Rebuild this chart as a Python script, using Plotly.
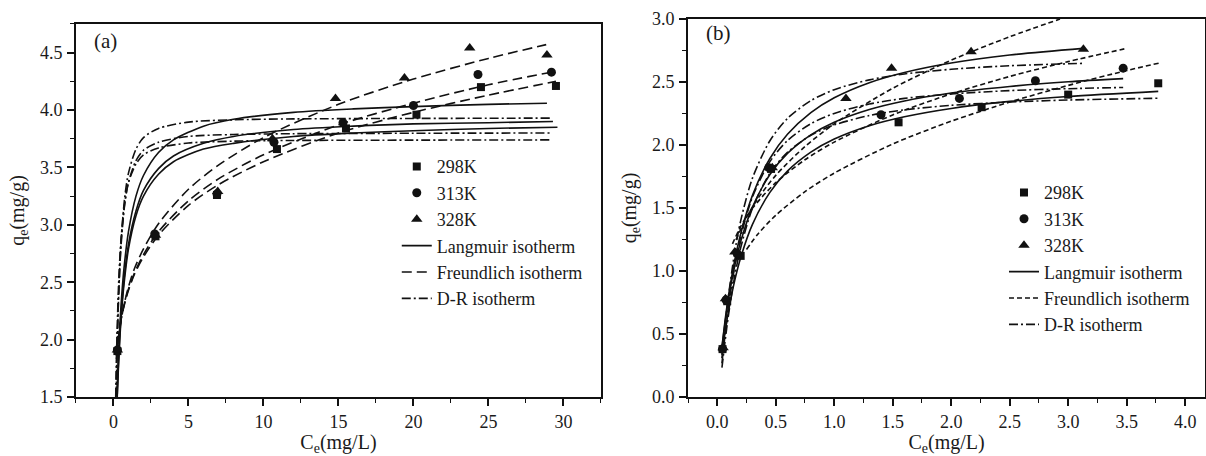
import plotly.graph_objects as go

# ---------------- Panel (a): experimental points ----------------
a_298_x = [0.26, 2.8, 6.9, 10.9, 15.5, 20.2, 24.5, 29.5]
a_298_y = [1.90, 2.90, 3.26, 3.66, 3.84, 3.96, 4.20, 4.21]
a_313_x = [0.26, 2.75, 6.9, 10.7, 15.3, 20.0, 24.3, 29.2]
a_313_y = [1.91, 2.92, 3.27, 3.72, 3.89, 4.04, 4.31, 4.33]
a_328_x = [0.26, 2.8, 6.95, 10.6, 14.8, 19.4, 23.75, 28.9]
a_328_y = [1.91, 2.91, 3.29, 3.75, 4.10, 4.28, 4.54, 4.48]

# Panel (a): Langmuir curves
a_lang_298_x = [0.25, 0.3, 0.4, 0.5, 0.7, 1.0, 1.5, 2, 3, 4, 6, 8, 12, 16, 20, 25, 29.6]
a_lang_298_y = [1.50, 1.67, 1.95, 2.17, 2.48, 2.79, 3.08, 3.25, 3.44, 3.55, 3.66, 3.71, 3.77, 3.80, 3.82, 3.84, 3.85]
a_lang_313_x = [0.25, 0.3, 0.4, 0.5, 0.7, 1.0, 1.5, 2, 3, 4, 6, 8, 12, 16, 20, 25, 29.3]
a_lang_313_y = [1.52, 1.70, 1.98, 2.20, 2.52, 2.83, 3.12, 3.30, 3.49, 3.60, 3.71, 3.77, 3.83, 3.86, 3.88, 3.89, 3.90]
a_lang_328_x = [0.25, 0.3, 0.4, 0.5, 0.7, 1.0, 1.5, 2, 3, 4, 6, 8, 12, 16, 20, 25, 28.9]
a_lang_328_y = [1.58, 1.76, 2.06, 2.29, 2.62, 2.94, 3.25, 3.43, 3.63, 3.74, 3.86, 3.92, 3.98, 4.01, 4.03, 4.05, 4.06]

# Panel (a): Freundlich curves
a_freu_298_x = [0.2, 0.3, 0.5, 0.7, 1, 1.4, 2, 3, 5, 7, 10, 15, 20, 25, 29.5]
a_freu_298_y = [1.86, 1.99, 2.17, 2.29, 2.43, 2.57, 2.72, 2.91, 3.17, 3.35, 3.55, 3.80, 3.98, 4.13, 4.25]
a_freu_313_x = [0.2, 0.3, 0.5, 0.7, 1, 1.4, 2, 3, 5, 7, 10, 15, 20, 25, 29.2]
a_freu_313_y = [1.86, 1.99, 2.17, 2.30, 2.44, 2.58, 2.74, 2.94, 3.21, 3.40, 3.61, 3.87, 4.06, 4.22, 4.33]
a_freu_328_x = [0.2, 0.3, 0.5, 0.7, 1, 1.4, 2, 3, 5, 7, 10, 15, 20, 25, 28.85]
a_freu_328_y = [1.83, 1.97, 2.16, 2.30, 2.46, 2.62, 2.79, 3.01, 3.31, 3.52, 3.76, 4.05, 4.27, 4.45, 4.57]

# Panel (a): D-R curves
a_dr_1_x = [0.18, 0.25, 0.35, 0.5, 0.75, 1.0, 1.5, 2, 3, 5, 8, 12, 20, 29.2]
a_dr_1_y = [1.51, 1.95, 2.40, 2.84, 3.24, 3.45, 3.66, 3.76, 3.84, 3.895, 3.915, 3.923, 3.927, 3.93]
a_dr_2_x = [0.17, 0.2, 0.25, 0.35, 0.5, 0.75, 1, 1.5, 2, 3, 5, 8, 12, 20, 29.2]
a_dr_2_y = [1.50, 1.70, 1.99, 2.41, 2.81, 3.18, 3.37, 3.56, 3.65, 3.72, 3.77, 3.787, 3.794, 3.798, 3.80]
a_dr_3_x = [0.15, 0.2, 0.25, 0.35, 0.5, 0.75, 1, 1.5, 2, 3, 5, 8, 12, 20, 29.2]
a_dr_3_y = [1.50, 1.85, 2.11, 2.51, 2.87, 3.19, 3.37, 3.53, 3.61, 3.67, 3.713, 3.729, 3.735, 3.738, 3.74]

# ---------------- Panel (b): experimental points ----------------
b_298_x = [0.045, 0.085, 0.20, 0.46, 1.55, 2.26, 3.0, 3.77]
b_298_y = [0.38, 0.76, 1.12, 1.81, 2.18, 2.30, 2.40, 2.49]
b_313_x = [0.045, 0.075, 0.17, 0.44, 1.40, 2.07, 2.72, 3.47]
b_313_y = [0.38, 0.77, 1.14, 1.82, 2.24, 2.37, 2.51, 2.61]
b_328_x = [0.05, 0.07, 0.15, 0.47, 1.10, 1.49, 2.17, 3.13]
b_328_y = [0.39, 0.78, 1.15, 1.82, 2.37, 2.61, 2.74, 2.76]

# Panel (b): Langmuir curves
b_lang_298_x = [0.04, 0.07, 0.1, 0.15, 0.2, 0.3, 0.45, 0.6, 0.8, 1.0, 1.3, 1.6, 2.0, 2.5, 3.0, 3.77]
b_lang_298_y = [0.335, 0.535, 0.702, 0.928, 1.106, 1.368, 1.624, 1.793, 1.943, 2.047, 2.153, 2.224, 2.290, 2.346, 2.385, 2.426]
b_lang_313_x = [0.04, 0.07, 0.1, 0.15, 0.2, 0.3, 0.45, 0.6, 0.8, 1.0, 1.3, 1.6, 2.0, 2.5, 3.0, 3.47]
b_lang_313_y = [0.388, 0.613, 0.799, 1.044, 1.233, 1.505, 1.766, 1.933, 2.081, 2.181, 2.282, 2.350, 2.413, 2.465, 2.502, 2.527]
b_lang_328_x = [0.04, 0.07, 0.1, 0.15, 0.2, 0.3, 0.45, 0.6, 0.8, 1.0, 1.3, 1.6, 2.0, 2.5, 3.13]
b_lang_328_y = [0.396, 0.630, 0.826, 1.089, 1.295, 1.598, 1.893, 2.085, 2.257, 2.375, 2.495, 2.576, 2.651, 2.714, 2.767]

# Panel (b): Freundlich curves
b_freu_298_x = [0.25, 0.35, 0.5, 0.75, 1.0, 1.5, 2.0, 2.5, 3.0, 3.5, 3.78]
b_freu_298_y = [1.171, 1.296, 1.442, 1.630, 1.777, 2.008, 2.189, 2.341, 2.473, 2.591, 2.651]
b_freu_313_x = [0.13, 0.2, 0.3, 0.5, 0.75, 1.0, 1.5, 2.0, 2.5, 3.0, 3.48]
b_freu_313_y = [1.215, 1.353, 1.497, 1.701, 1.883, 2.023, 2.239, 2.406, 2.544, 2.662, 2.763]
b_freu_328_x = [0.16, 0.25, 0.35, 0.5, 0.75, 1.0, 1.5, 2.0, 2.5, 2.93]
b_freu_328_y = [1.247, 1.426, 1.579, 1.759, 1.988, 2.168, 2.450, 2.673, 2.859, 3.0]

# Panel (b): D-R curves
b_dr_298_x = [0.04, 0.06, 0.08, 0.1, 0.15, 0.2, 0.3, 0.45, 0.6, 0.8, 1.0, 1.3, 1.6, 2.0, 2.5, 3.0, 3.77]
b_dr_298_y = [0.233, 0.391, 0.541, 0.677, 0.963, 1.184, 1.495, 1.776, 1.942, 2.077, 2.159, 2.234, 2.279, 2.315, 2.341, 2.357, 2.371]
b_dr_313_x = [0.04, 0.06, 0.08, 0.1, 0.15, 0.2, 0.3, 0.45, 0.6, 0.8, 1.0, 1.3, 1.6, 2.0, 2.5, 3.0, 3.47]
b_dr_313_y = [0.268, 0.440, 0.600, 0.744, 1.042, 1.269, 1.585, 1.868, 2.035, 2.169, 2.251, 2.325, 2.370, 2.405, 2.432, 2.447, 2.457]
b_dr_328_x = [0.04, 0.06, 0.08, 0.1, 0.15, 0.2, 0.3, 0.45, 0.6, 0.8, 1.0, 1.3, 1.6, 2.0, 2.5, 3.13]
b_dr_328_y = [0.309, 0.500, 0.675, 0.832, 1.154, 1.398, 1.735, 2.034, 2.211, 2.352, 2.439, 2.517, 2.564, 2.601, 2.629, 2.648]

series_names = ["298K", "313K", "328K"]
marker_symbols = ["square", "circle", "triangle-up"]
marker_sizes = [8, 9, 10]
model_names = ["Langmuir isotherm", "Freundlich isotherm", "D-R isotherm"]

FONT = "Liberation Serif, Times New Roman, serif"
INK = "#111111"
TXT = "#1a1a1a"

fig = go.Figure()


def add_curve(x, y, xa, ya, dash, name, legend, show, rank):
    fig.add_trace(go.Scatter(
        x=x, y=y, mode="lines", xaxis=xa, yaxis=ya,
        line=dict(color=INK, width=1.6, dash=dash, shape="spline", smoothing=0.8),
        name=name, legend=legend, showlegend=show, legendrank=rank,
        hoverinfo="skip"))


dash_a = {"solid": "solid", "freu": "10px,5px", "dr": "9px,3px,2px,3px"}
dash_b = {"solid": "solid", "freu": "5px,3px", "dr": "9px,3px,2px,3px"}

# Panel (a) curves
for i, (x, y) in enumerate([(a_lang_298_x, a_lang_298_y), (a_lang_313_x, a_lang_313_y), (a_lang_328_x, a_lang_328_y)]):
    add_curve(x, y, "x", "y", dash_a["solid"], model_names[0], "legend", i == 0, 4)
for i, (x, y) in enumerate([(a_freu_298_x, a_freu_298_y), (a_freu_313_x, a_freu_313_y), (a_freu_328_x, a_freu_328_y)]):
    add_curve(x, y, "x", "y", dash_a["freu"], model_names[1], "legend", i == 0, 5)
for i, (x, y) in enumerate([(a_dr_1_x, a_dr_1_y), (a_dr_2_x, a_dr_2_y), (a_dr_3_x, a_dr_3_y)]):
    add_curve(x, y, "x", "y", dash_a["dr"], model_names[2], "legend", i == 0, 6)

# Panel (b) curves
for i, (x, y) in enumerate([(b_lang_298_x, b_lang_298_y), (b_lang_313_x, b_lang_313_y), (b_lang_328_x, b_lang_328_y)]):
    add_curve(x, y, "x2", "y2", dash_b["solid"], model_names[0], "legend2", i == 0, 4)
for i, (x, y) in enumerate([(b_freu_298_x, b_freu_298_y), (b_freu_313_x, b_freu_313_y), (b_freu_328_x, b_freu_328_y)]):
    add_curve(x, y, "x2", "y2", dash_b["freu"], model_names[1], "legend2", i == 0, 5)
for i, (x, y) in enumerate([(b_dr_298_x, b_dr_298_y), (b_dr_313_x, b_dr_313_y), (b_dr_328_x, b_dr_328_y)]):
    add_curve(x, y, "x2", "y2", dash_b["dr"], model_names[2], "legend2", i == 0, 6)

# Markers on top
a_points = [(a_298_x, a_298_y), (a_313_x, a_313_y), (a_328_x, a_328_y)]
b_points = [(b_298_x, b_298_y), (b_313_x, b_313_y), (b_328_x, b_328_y)]
for i, (x, y) in enumerate(a_points):
    fig.add_trace(go.Scatter(x=x, y=y, mode="markers", xaxis="x", yaxis="y",
                             marker=dict(symbol=marker_symbols[i], size=marker_sizes[i], color=INK),
                             name=series_names[i], legend="legend", legendrank=i + 1, cliponaxis=False))
for i, (x, y) in enumerate(b_points):
    fig.add_trace(go.Scatter(x=x, y=y, mode="markers", xaxis="x2", yaxis="y2",
                             marker=dict(symbol=marker_symbols[i], size=marker_sizes[i], color=INK),
                             name=series_names[i], legend="legend2", legendrank=i + 1, cliponaxis=False))

axis_common = dict(
    showline=True, linewidth=2, linecolor=INK, mirror=True,
    ticks="outside", ticklen=7, tickwidth=1.5, tickcolor=INK,
    showgrid=False, zeroline=False, automargin=False,
    tickfont=dict(family=FONT, size=18, color=TXT),
    title_font=dict(family=FONT, size=20, color=TXT),
)
minor_common = dict(ticks="outside", ticklen=4, tickwidth=1.2, tickcolor=INK)

fig.update_layout(
    template="none",
    width=1206, height=456,
    margin=dict(l=0, r=0, t=0, b=0, autoexpand=False),
    paper_bgcolor="white", plot_bgcolor="white",
    font=dict(family=FONT, color=TXT),
    xaxis=dict(domain=[0.063, 0.4983], range=[-2.5, 32.5], tickvals=[0, 5, 10, 15, 20, 25, 30],
               minor=dict(dtick=2.5, tick0=0, **minor_common),
               title=dict(text="C<sub>e</sub>(mg/L)", standoff=16), anchor="y", ticklabelstandoff=0, **axis_common),
    yaxis=dict(domain=[0.1294, 0.9474], range=[1.5, 4.75], dtick=0.5, tick0=1.5, tickformat=".1f",
               minor=dict(dtick=0.25, tick0=1.5, **minor_common),
               title=dict(text="q<sub>e</sub>(mg/g)", standoff=10), anchor="x", ticklabelstandoff=1, **axis_common),
    xaxis2=dict(domain=[0.5705, 0.9992], range=[-0.25, 4.17], dtick=0.5, tick0=0, tickformat=".1f",
                minor=dict(dtick=0.25, tick0=0, **minor_common),
                title=dict(text="C<sub>e</sub>(mg/L)", standoff=16), anchor="y2", ticklabelstandoff=0, **axis_common),
    yaxis2=dict(domain=[0.1294, 0.9583], range=[0, 3.0], dtick=0.5, tick0=0, tickformat=".1f",
                minor=dict(dtick=0.25, tick0=0, **minor_common),
                title=dict(text="q<sub>e</sub>(mg/g)", standoff=10), anchor="x2", ticklabelstandoff=1, **axis_common),
    legend=dict(x=0.329, y=0.675, xanchor="left", yanchor="top", bgcolor="rgba(0,0,0,0)",
                font=dict(family=FONT, size=18, color=TXT), tracegroupgap=0, traceorder="normal"),
    legend2=dict(x=0.8325, y=0.618, xanchor="left", yanchor="top", bgcolor="rgba(0,0,0,0)",
                 font=dict(family=FONT, size=18, color=TXT), tracegroupgap=0, traceorder="normal"),
    annotations=[
        dict(text="(a)", x=0.0765, y=0.91, xref="paper", yref="paper", showarrow=False,
             xanchor="left", yanchor="middle", font=dict(family=FONT, size=21, color=TXT)),
        dict(text="(b)", x=0.584, y=0.927, xref="paper", yref="paper", showarrow=False,
             xanchor="left", yanchor="middle", font=dict(family=FONT, size=21, color=TXT)),
    ],
)

fig.write_html("out.html")
